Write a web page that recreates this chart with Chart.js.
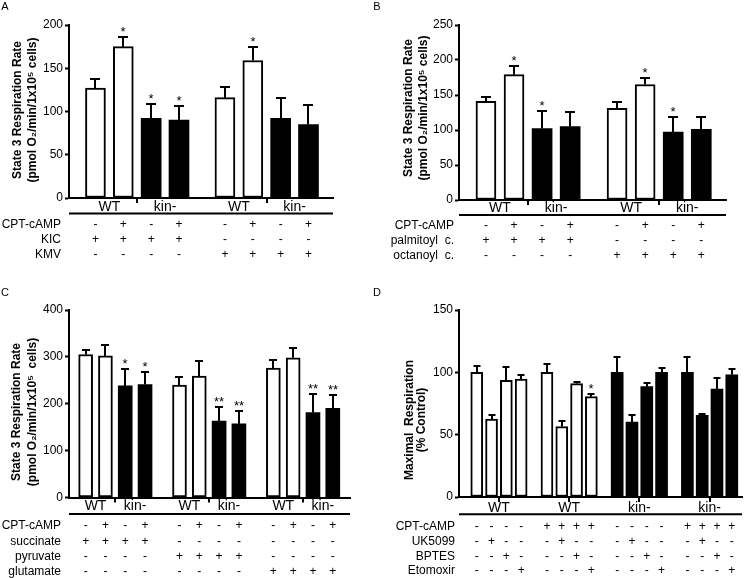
<!DOCTYPE html>
<html><head><meta charset="utf-8">
<script src="https://cdn.jsdelivr.net/npm/chart.js@4.4.1/dist/chart.umd.min.js"></script>
<style>
html,body{margin:0;padding:0;background:#fff;}
#wrap{position:relative;width:745px;height:578px;overflow:hidden;background:#fff;}
canvas{position:absolute;}
</style></head><body>
<div id="wrap">
<canvas id="cA"></canvas><canvas id="cB"></canvas><canvas id="cC"></canvas><canvas id="cD"></canvas>
</div>
<script>
// ---------- Panel A ----------
const A_values   = [127, 175, 92, 90, 116, 159, 92, 85];
const A_errors   = [11, 11.5, 17, 16.5, 12, 15.5, 24, 22];
const A_genotype = ['WT','WT','kin-','kin-','WT','WT','kin-','kin-'];
const A_block    = [0,0,0,0,1,1,1,1];
const A_stars    = ['','*','*','*','','*','',''];
const A_rowLabels = ['CPT-cAMP','KIC','KMV'];
const A_rowSigns = [
  ['-','+','-','+','-','+','-','+'],
  ['+','+','+','+','-','-','-','-'],
  ['-','-','-','-','+','+','+','+']];
const A_yTicks = [0, 50, 100, 150, 200];
const A_yTitle = ['State 3 Respiration Rate', '(pmol O\u2082/min/1x10\u2075 cells)'];

// ---------- Panel B ----------
const B_values   = [141, 179, 102, 105, 131, 165, 97, 101];
const B_errors   = [6, 13, 25, 21, 9, 9, 21, 18];
const B_genotype = ['WT','WT','kin-','kin-','WT','WT','kin-','kin-'];
const B_block    = [0,0,0,0,1,1,1,1];
const B_stars    = ['','*','*','','','*','*',''];
const B_rowLabels = ['CPT-cAMP','palmitoyl  c.','octanoyl  c.'];
const B_rowSigns = [
  ['-','+','-','+','-','+','-','+'],
  ['+','+','+','+','-','-','-','-'],
  ['-','-','-','-','+','+','+','+']];
const B_yTicks = [0, 50, 100, 150, 200, 250];
const B_yTitle = ['State 3 Respiration Rate', '(pmol O\u2082/min/1x10\u2075 cells)'];

// ---------- Panel C ----------
const C_values   = [305, 302, 238, 241, 240, 259, 163, 157, 276, 298, 181, 190];
const C_errors   = [10, 24, 37, 27, 18, 32, 31, 27, 18, 20, 39, 28];
const C_genotype = ['WT','WT','kin-','kin-','WT','WT','kin-','kin-','WT','WT','kin-','kin-'];
const C_block    = [0,0,0,0,1,1,1,1,2,2,2,2];
const C_stars    = ['','','*','*','','','**','**','','','**','**'];
const C_rowLabels = ['CPT-cAMP','succinate','pyruvate','glutamate'];
const C_rowSigns = [
  ['-','+','-','+','-','+','-','+','-','+','-','+'],
  ['+','+','+','+','-','-','-','-','-','-','-','-'],
  ['-','-','-','-','+','+','+','+','-','-','-','-'],
  ['-','-','-','-','-','-','-','-','+','+','+','+']];
const C_yTicks = [0, 100, 200, 300, 400];
const C_yTitle = ['State 3 Respiration Rate', '(pmol O\u2082/min/1x10\u2075  cells)'];

// ---------- Panel D ----------
const D_values   = [100, 62.5, 93.5, 94.5, 100, 56.5, 91, 80.5, 100, 60, 88.5, 100, 100, 65.5, 86.5, 98];
const D_errors   = [5, 3.5, 11, 3, 7, 4.5, 1.5, 2, 12.5, 6, 3, 3.5, 12.5, 1, 9, 5];
const D_genotype = ['WT','WT','WT','WT','WT','WT','WT','WT','kin-','kin-','kin-','kin-','kin-','kin-','kin-','kin-'];
const D_block    = [0,0,0,0,1,1,1,1,2,2,2,2,3,3,3,3];
const D_stars    = ['','','','','','','','*','','','','','','','',''];
const D_rowLabels = ['CPT-cAMP','UK5099','BPTES','Etomoxir'];
const D_rowSigns = [
  ['-','-','-','-','+','+','+','+','-','-','-','-','+','+','+','+'],
  ['-','+','-','-','-','+','-','-','-','+','-','-','-','+','-','-'],
  ['-','-','+','-','-','-','+','-','-','-','+','-','-','-','+','-'],
  ['-','-','-','+','-','-','-','+','-','-','-','+','-','-','-','+']];
const D_yTicks = [0, 50, 100, 150];
const D_yTitle = ['Maximal  Respiration', '(% Control)'];

const FONT = "'Liberation Sans', Arial, Helvetica, sans-serif";

function makePanel(id, letter, P, L) {
  const canvas = document.getElementById(id);
  canvas.width = L.w; canvas.height = L.h;
  canvas.style.left = L.x + 'px'; canvas.style.top = L.y + 'px';
  canvas.style.width = L.w + 'px'; canvas.style.height = L.h + 'px';

  const pos = P.values.map((v, i) => i + P.block[i] * L.gap);
  const wt = [], kin = [];
  P.values.forEach((v, i) => (P.genotype[i] === 'WT' ? wt : kin).push({x: pos[i], y: v}));

  // groups: runs of same genotype inside a block
  const groups = [];
  P.genotype.forEach((g, i) => {
    const last = groups[groups.length - 1];
    if (last && last.g === g && last.b === P.block[i]) last.idx.push(i);
    else groups.push({g: g, b: P.block[i], idx: [i]});
  });

  const deco = {
    id: 'deco' + id,
    afterDraw(chart) {
      const ctx = chart.ctx, xs = chart.scales.x, ys = chart.scales.y, ca = chart.chartArea;
      const px = i => xs.getPixelForValue(pos[i]);
      ctx.save();
      ctx.strokeStyle = '#000'; ctx.fillStyle = '#000'; ctx.lineWidth = 2;
      // error bars + stars
      P.values.forEach((v, i) => {
        const x = Math.round(px(i));
        const y0 = ys.getPixelForValue(v);
        const y1 = Math.round(ys.getPixelForValue(v + P.errors[i]));
        ctx.beginPath();
        ctx.moveTo(x, y0); ctx.lineTo(x, y1);
        ctx.moveTo(x - L.cap / 2, y1); ctx.lineTo(x + L.cap / 2, y1);
        ctx.stroke();
        if (P.stars[i]) {
          ctx.font = '13px ' + FONT; ctx.textAlign = 'center'; ctx.textBaseline = 'alphabetic';
          ctx.fillText(P.stars[i], x, y1 - 1);
        }
      });
      // separator ticks below axis
      const tickXs = [];
      if (L.tickMode === 'between') {
        for (let k = 0; k < groups.length - 1; k++) {
          if (groups[k].b === groups[k + 1].b) {
            const a = groups[k].idx[groups[k].idx.length - 1], b = groups[k + 1].idx[0];
            tickXs.push((px(a) + px(b)) / 2);
          }
        }
      } else {
        groups.forEach(g => tickXs.push(g.idx.reduce((s, i) => s + px(i), 0) / g.idx.length));
      }
      ctx.beginPath();
      tickXs.forEach(t => { const x = Math.round(t); ctx.moveTo(x, ca.bottom); ctx.lineTo(x, ca.bottom + 5); });
      ctx.stroke();
      // group labels
      ctx.font = '14px ' + FONT; ctx.textAlign = 'center'; ctx.textBaseline = 'middle';
      groups.forEach(g => {
        const cx = g.idx.reduce((s, i) => s + px(i), 0) / g.idx.length;
        ctx.fillText(g.g, cx, L.groupY);
      });
      // underline
      ctx.beginPath(); ctx.moveTo(ca.left, L.underY); ctx.lineTo(ca.right, L.underY); ctx.stroke();
      // condition rows
      ctx.font = '12px ' + FONT;
      P.rowLabels.forEach((lab, r) => {
        ctx.textAlign = 'right'; ctx.fillText(lab, L.rowLabelX, L.rowY[r]);
        ctx.textAlign = 'center';
        P.rowSigns[r].forEach((s, i) => ctx.fillText(s, px(i), L.rowY[r]));
      });
      // y title
      ctx.save();
      ctx.translate(0, L.titleCY); ctx.rotate(-Math.PI / 2);
      ctx.font = 'bold 12px ' + FONT; ctx.textAlign = 'center'; ctx.textBaseline = 'middle';
      P.yTitle.forEach((t, k) => ctx.fillText(t, 0, L.titleX[k]));
      ctx.restore();
      // panel letter
      ctx.font = '11px ' + FONT; ctx.textAlign = 'center'; ctx.textBaseline = 'middle';
      ctx.fillText(letter, L.letter[0], L.letter[1]);
      ctx.restore();
    }
  };

  const lastPos = pos[pos.length - 1];
  new Chart(canvas, {
    type: 'bar',
    data: {datasets: [
      {label: 'WT', data: wt, backgroundColor: '#fff', borderColor: '#000', borderWidth: 2,
       borderSkipped: false, grouped: false, categoryPercentage: 1, barPercentage: 1, maxBarThickness: L.barW},
      {label: 'kin-', data: kin, backgroundColor: '#000', borderColor: '#000', borderWidth: 0,
       borderSkipped: false, grouped: false, categoryPercentage: 1, barPercentage: 1, maxBarThickness: L.barW}
    ]},
    options: {
      responsive: false, animation: false, devicePixelRatio: 1,
      layout: {padding: {top: L.top, right: L.w - L.right, left: 0, bottom: 0}},
      plugins: {legend: {display: false}, tooltip: {enabled: false}},
      scales: {
        x: {type: 'linear', min: -L.padL, max: lastPos + L.padR, bounds: 'data', offset: false,
            ticks: {display: false}, grid: {display: false},
            border: {display: true, color: '#000', width: 2},
            afterFit: s => { s.height = L.h - L.bottom; s.paddingLeft = 0; s.paddingRight = 0; }},
        y: {type: 'linear', min: P.yTicks[0], max: P.yTicks[P.yTicks.length - 1],
            ticks: {stepSize: P.yTicks[1] - P.yTicks[0], color: '#000', padding: 2,
                    font: {family: FONT, size: 12}},
            grid: {display: true, drawOnChartArea: false, drawTicks: true, tickLength: 4,
                   tickWidth: 2, tickColor: '#000', color: '#000'},
            border: {display: true, color: '#000', width: 2},
            afterFit: s => { s.width = L.left; }}
      }
    },
    plugins: [deco]
  });
}

makePanel('cA', 'A',
  {values: A_values, errors: A_errors, genotype: A_genotype, block: A_block, stars: A_stars,
   rowLabels: A_rowLabels, rowSigns: A_rowSigns, yTicks: A_yTicks, yTitle: A_yTitle},
  {x: 0, y: 0, w: 372, h: 290, left: 69, top: 25, right: 333, bottom: 198, gap: 0.65, padL: 0.95, padR: 0.88,
   barW: 20, cap: 10, groupY: 207, underY: 213.5, rowY: [225, 240, 255], rowLabelX: 61,
   titleX: [17.5, 33], titleCY: 110, letter: [5, 7], tickMode: 'between'});

makePanel('cB', 'B',
  {values: B_values, errors: B_errors, genotype: B_genotype, block: B_block, stars: B_stars,
   rowLabels: B_rowLabels, rowSigns: B_rowSigns, yTicks: B_yTicks, yTitle: B_yTitle},
  {x: 372, y: 0, w: 373, h: 290, left: 87, top: 25, right: 354, bottom: 200, gap: 0.67, padL: 0.96, padR: 0.88,
   barW: 20, cap: 10, groupY: 208, underY: 215, rowY: [226, 241, 256], rowLabelX: 82,
   titleX: [36.7, 51.3], titleCY: 108, letter: [5, 7], tickMode: 'between'});

makePanel('cC', 'C',
  {values: C_values, errors: C_errors, genotype: C_genotype, block: C_block, stars: C_stars,
   rowLabels: C_rowLabels, rowSigns: C_rowSigns, yTicks: C_yTicks, yTitle: C_yTitle},
  {x: 0, y: 284, w: 372, h: 294, left: 69, top: 26, right: 350, bottom: 213.5, gap: 0.74, padL: 0.84, padR: 0.87,
   barW: 14, cap: 8, groupY: 222, underY: 230, rowY: [242, 257.5, 272.5, 287.5], rowLabelX: 61,
   titleX: [16.5, 33], titleCY: 128, letter: [5, 8.5], tickMode: 'between'});

makePanel('cD', 'D',
  {values: D_values, errors: D_errors, genotype: D_genotype, block: D_block, stars: D_stars,
   rowLabels: D_rowLabels, rowSigns: D_rowSigns, yTicks: D_yTicks, yTitle: D_yTitle},
  {x: 372, y: 284, w: 373, h: 294, left: 87, top: 26, right: 370, bottom: 213, gap: 0.745, padL: 1.2, padR: 0.69,
   barW: 12, cap: 7, groupY: 224.3, underY: 230.3, rowY: [242.7, 257.7, 272.7, 287], rowLabelX: 83,
   titleX: [37.5, 50], titleCY: 136, letter: [5, 9], tickMode: 'center'});
</script>
</body></html>
